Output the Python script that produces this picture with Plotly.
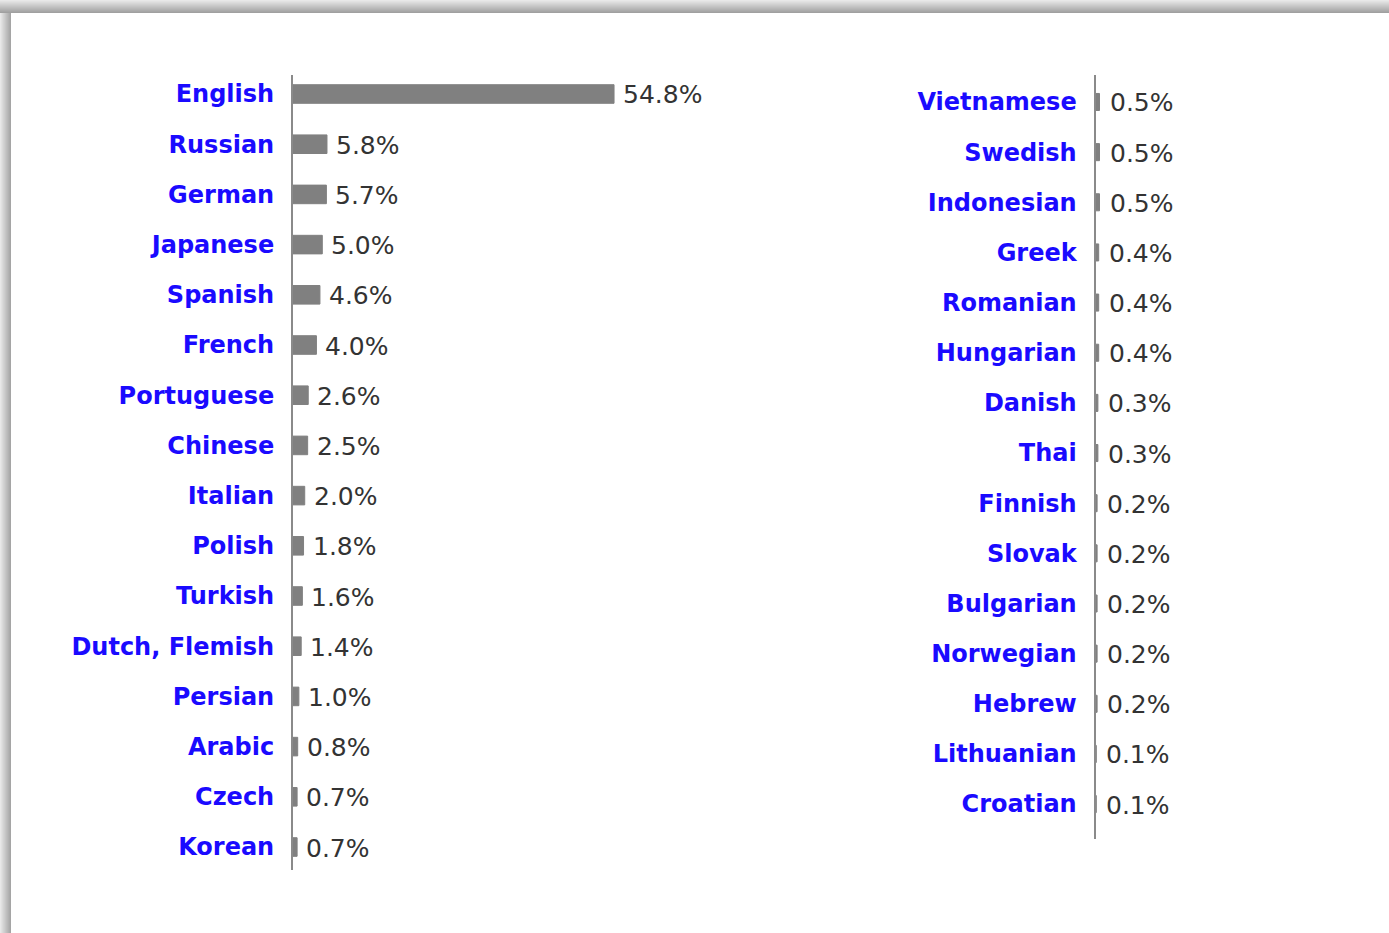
import plotly.graph_objects as go

# ---- data ----
left_languages = ["English", "Russian", "German", "Japanese", "Spanish", "French",
                  "Portuguese", "Chinese", "Italian", "Polish", "Turkish",
                  "Dutch, Flemish", "Persian", "Arabic", "Czech", "Korean"]
left_values = [54.8, 5.8, 5.7, 5.0, 4.6, 4.0, 2.6, 2.5, 2.0, 1.8, 1.6, 1.4, 1.0, 0.8, 0.7, 0.7]

right_languages = ["Vietnamese", "Swedish", "Indonesian", "Greek", "Romanian",
                   "Hungarian", "Danish", "Thai", "Finnish", "Slovak", "Bulgarian",
                   "Norwegian", "Hebrew", "Lithuanian", "Croatian"]
right_values = [0.5, 0.5, 0.5, 0.4, 0.4, 0.4, 0.3, 0.3, 0.2, 0.2, 0.2, 0.2, 0.2, 0.1, 0.1]

W, H = 1389, 933
BAR = "#808080"
LABEL = "#1a0aff"
VALTXT = "#333333"
FONT = "DejaVu Sans"

def px_x(p):
    return p / W

def px_y(p):
    return 1 - p / H

fig = go.Figure()

fig.add_trace(go.Bar(x=left_values, y=left_languages, orientation="h",
                     marker=dict(color=BAR, line=dict(color=BAR, width=1)),
                     width=0.37, xaxis="x", yaxis="y", hoverinfo="x+y"))
fig.add_trace(go.Bar(x=right_values, y=right_languages, orientation="h",
                     marker=dict(color=BAR, line=dict(color=BAR, width=1)),
                     width=0.34, xaxis="x2", yaxis="y2", hoverinfo="x+y"))

annotations = []
for lang, v in zip(left_languages, left_values):
    annotations.append(dict(x=v, y=lang, xref="x", yref="y", text=f"{v:.1f}%",
                            showarrow=False, xanchor="left", xshift=7, yshift=-1,
                            font=dict(family=FONT, size=25, color=VALTXT)))
for lang, v in zip(right_languages, right_values):
    annotations.append(dict(x=v, y=lang, xref="x2", yref="y2", text=f"{v:.1f}%",
                            showarrow=False, xanchor="left", xshift=8, yshift=-1,
                            font=dict(family=FONT, size=25, color=VALTXT)))

# page shadow frame (top and left edges)
shapes = []
top_n, left_n = 13, 11
for i in range(top_n):
    t = i / (top_n - 1)
    g = int(232 - t * (232 - 160))
    shapes.append(dict(type="rect", xref="paper", yref="paper",
                       x0=0, x1=1, y0=px_y(i + 1), y1=px_y(i),
                       fillcolor=f"rgb({g},{g},{g})", line=dict(width=0), layer="below"))
for j in range(left_n):
    t = j / (left_n - 1)
    g = int(232 - t * (232 - 165))
    shapes.append(dict(type="rect", xref="paper", yref="paper",
                       x0=px_x(j), x1=px_x(j + 1), y0=0, y1=px_y(top_n),
                       fillcolor=f"rgb({g},{g},{g})", line=dict(width=0), layer="below"))

yaxis_common = dict(type="category", showline=True, linecolor="#8a8a8a", linewidth=2,
                    showgrid=False, zeroline=False, ticks="", ticklabelstandoff=12,
                    tickfont=dict(family=FONT, size=24, color=LABEL, weight="bold"),
                    automargin=False, fixedrange=True)
xaxis_common = dict(visible=False, showgrid=False, zeroline=False, fixedrange=True)

fig.update_layout(
    width=W, height=H,
    margin=dict(l=0, r=0, t=0, b=0),
    paper_bgcolor="white", plot_bgcolor="white",
    showlegend=False,
    xaxis=dict(domain=[px_x(293), px_x(644.5)], range=[0, 60], anchor="y", **xaxis_common),
    yaxis=dict(domain=[px_y(870), px_y(75)], range=[15.458, -0.3785], anchor="x", **yaxis_common),
    xaxis2=dict(domain=[px_x(1095.5), px_x(1175.5)], range=[0, 10], anchor="y2", **xaxis_common),
    yaxis2=dict(domain=[px_y(839), px_y(75)], range=[14.696, -0.538], anchor="x2", **yaxis_common),
    annotations=annotations,
    shapes=shapes,
)

fig.write_html("out.html", config={"displayModeBar": False},
               post_script="document.body.style.margin='0';document.body.style.overflow='hidden';")
